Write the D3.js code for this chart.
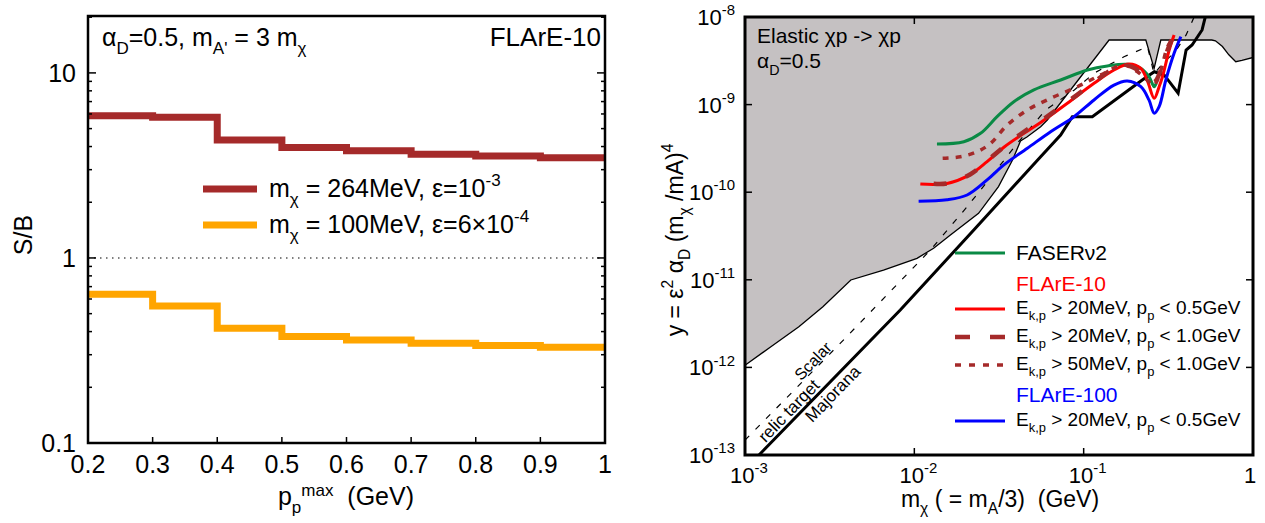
<!DOCTYPE html>
<html><head><meta charset="utf-8">
<script src="https://cdn.jsdelivr.net/npm/d3@7"></script>
<style>body{margin:0;background:#fff} text{font-family:"Liberation Sans",Arial,Helvetica,sans-serif}</style>
</head><body><svg id="c" width="1265" height="523"></svg>
<script>
// ---------- LEFT PANEL DATA ----------
const pBinEdges = [0.2,0.3,0.4,0.5,0.6,0.7,0.8,0.9,1.0];
const sb264 = [5.86,5.76,4.34,3.95,3.79,3.63,3.56,3.48];
const sb100 = [0.636,0.55,0.417,0.376,0.360,0.346,0.336,0.329];
const leftXTicks = [0.2,0.3,0.4,0.5,0.6,0.7,0.8,0.9,1.0];
const leftXTickLabels = ["0.2","0.3","0.4","0.5","0.6","0.7","0.8","0.9","1"];
const leftYTicks = [0.1,1,10];
const leftYTickLabels = ["0.1","1","10"];
const leftYMinor = [0.2,0.3,0.4,0.5,0.6,0.7,0.8,0.9,2,3,4,5,6,7,8,9,20];

// ---------- RIGHT PANEL DATA ([m_chi GeV, y]) ----------
const faser2 = [[0.0136,3.55e-10],[0.0196,3.77e-10],[0.0246,4.70e-10],[0.0308,7.28e-10],[0.0387,1.08e-9],[0.0508,1.47e-9],[0.0731,1.91e-9],[0.1052,2.48e-9],[0.138,2.76e-9],[0.181,2.88e-9],[0.2175,2.59e-9],[0.243,2.08e-9],[0.261,1.60e-9],[0.268,1.75e-9]];
const flare10_20_05 = [[0.01085,1.24e-10],[0.0156,1.26e-10],[0.02145,1.60e-10],[0.0269,2.23e-10],[0.0338,3.26e-10],[0.0444,4.70e-10],[0.0557,6.25e-10],[0.0801,1.035e-9],[0.1151,1.75e-9],[0.151,2.48e-9],[0.1854,2.91e-9],[0.2175,2.59e-9],[0.238,1.86e-9],[0.261,1.18e-9],[0.279,1.60e-9],[0.292,2.08e-9],[0.320,4.20e-9],[0.342,6.23e-9]];
const flare10_20_10 = [[0.0130,1.25e-10],[0.0156,1.26e-10],[0.02145,1.60e-10],[0.0269,2.27e-10],[0.0338,3.3e-10],[0.0444,4.9e-10],[0.0557,6.5e-10],[0.0801,1.07e-9],[0.1151,1.8e-9],[0.145,2.48e-9],[0.167,2.83e-9],[0.199,2.62e-9],[0.228,2.1e-9],[0.26,1.8e-9],[0.286,2.48e-9],[0.316,4.4e-9],[0.34,6.2e-9]];
const flare10_50_10 = [[0.0147,2.44e-10],[0.0187,2.54e-10],[0.0235,2.90e-10],[0.0282,3.61e-10],[0.0354,5.85e-10],[0.0465,8.67e-10],[0.0638,1.18e-9],[0.0918,1.60e-9],[0.126,2.18e-9],[0.173,2.83e-9],[0.208,2.37e-9],[0.249,1.75e-9],[0.261,1.67e-9],[0.286,2.48e-9],[0.313,4.58e-9],[0.342,5.96e-9]];
const flare100_20_05 = [[0.0106,7.9e-11],[0.0156,8.2e-11],[0.0205,9.29e-11],[0.0269,1.38e-10],[0.0338,2.05e-10],[0.0465,3.17e-10],[0.0638,4.91e-10],[0.0877,7.28e-10],[0.1151,1.13e-9],[0.151,1.67e-9],[0.181,1.86e-9],[0.2175,1.60e-9],[0.243,1.13e-9],[0.261,7.96e-10],[0.279,9.46e-10],[0.3057,1.91e-9],[0.342,3.85e-9],[0.375,5.96e-9]];
const excludedBoundary = [[0.001,1.06e-12],[0.001422,1.72e-12],[0.00208,2.91e-12],[0.002884,4.93e-12],[0.004217,9.95e-12],[0.006577,1.29e-11],[0.01037,1.76e-11],[0.0130,2.29e-11],[0.01633,3.24e-11],[0.02395,5.74e-11],[0.0314,1.16e-10],[0.038,2.33e-10],[0.04236,3.84e-10],[0.04645,4.30e-10],[0.0557,5.60e-10],[0.061,6.67e-10],[0.1413,5.46e-9],[0.2328,5.46e-9],[0.2606,2.59e-9],[0.2855,5.46e-9],[0.5715,5.46e-9],[0.60,5.35e-9],[0.66,4.6e-9],[0.72,3.7e-9],[0.791,3.09e-9],[0.86,3.2e-9],[1.0,3.45e-9]];
const majoranaTarget = [[0.00121,1.0e-13],[0.00826,4.52e-12],[0.02244,3.70e-11],[0.0557,2.54e-10],[0.0731,4.50e-10],[0.0857,7.28e-10],[0.1125,7.28e-10],[0.2218,1.91e-9],[0.2612,2.37e-9],[0.2987,2.18e-9],[0.3612,1.35e-9],[0.4026,4.20e-9],[0.4367,4.79e-9],[0.5003,7.11e-9],[0.535,1.2e-8]];
const scalarTarget = [[0.001,1.48e-13],[0.003648,1.88e-12],[0.01245,2.19e-11],[0.0205,6.82e-11],[0.02947,1.64e-10],[0.0405,3.61e-10],[0.0596,8.67e-10],[0.0881,1.47e-9],[0.1151,2.28e-9],[0.173,3.52e-9],[0.2382,4.58e-9],[0.2606,2.23e-9],[0.297,3.06e-9],[0.342,3.85e-9],[0.402,6.2e-9],[0.449,1.0e-8]];
const rightXTicks = [1e-3,1e-2,1e-1,1];
const rightXTickExp = ["-3","-2","-1",""];
const rightYTicks = [1e-13,1e-12,1e-11,1e-10,1e-9,1e-8];
const rightYTickExp = ["-13","-12","-11","-10","-9","-8"];

const svg = d3.select("#c");

function rich(g, x, y, parts, size, anchor, color){
  const t = g.append("text").attr("x",x).attr("y",y).attr("font-size",size)
    .attr("text-anchor",anchor||"start").attr("fill",color||"#000");
  let shift = 0;
  parts.forEach(p=>{
    const target = p.sub ? size*(p.dsub||0.32) : (p.sup ? -size*(p.dsup||0.45) : 0);
    const ts = t.append("tspan").text(p.t).attr("dy", target - shift);
    if(p.sub||p.sup) ts.attr("font-size", size*(p.small||0.68));
    shift = target;
  });
  return t;
}

// =============== LEFT PANEL ===============
const L = {x0:88, x1:605, y0:16, y1:443};
const lx = d3.scaleLinear().domain([0.2,1.0]).range([L.x0,L.x1]);
const ly = d3.scaleLog().domain([0.1,20.3]).range([L.y1,L.y0]);
const gl = svg.append("g");

gl.append("line").attr("x1",L.x0).attr("x2",L.x1).attr("y1",ly(1)).attr("y2",ly(1))
  .attr("stroke","#555").attr("stroke-width",1.5).attr("stroke-dasharray","1.5,4.5");

function stepData(vals){ const d = vals.map((v,i)=>[pBinEdges[i],v]); d.push([pBinEdges[pBinEdges.length-1], vals[vals.length-1]]); return d; }
const stepLine = d3.line().x(d=>lx(d[0])).y(d=>ly(d[1])).curve(d3.curveStepAfter);
gl.append("path").attr("d",stepLine(stepData(sb264))).attr("fill","none").attr("stroke","#a52a2a").attr("stroke-width",7);
gl.append("path").attr("d",stepLine(stepData(sb100))).attr("fill","none").attr("stroke","#ffa500").attr("stroke-width",7);

leftXTicks.forEach(v=>{
  gl.append("line").attr("x1",lx(v)).attr("x2",lx(v)).attr("y1",L.y1).attr("y2",L.y1-6).attr("stroke","#000").attr("stroke-width",1.5);
});
leftYTicks.forEach(v=>{
  [[L.x0,8],[L.x1,-8]].forEach(([x,d])=> gl.append("line").attr("x1",x).attr("x2",x+d).attr("y1",ly(v)).attr("y2",ly(v)).attr("stroke","#000").attr("stroke-width",1.5));
});
leftYMinor.forEach(v=>{
  [[L.x0,4],[L.x1,-4]].forEach(([x,d])=> gl.append("line").attr("x1",x).attr("x2",x+d).attr("y1",ly(v)).attr("y2",ly(v)).attr("stroke","#000").attr("stroke-width",1.5));
});
gl.append("rect").attr("x",L.x0).attr("y",L.y0).attr("width",L.x1-L.x0).attr("height",L.y1-L.y0)
  .attr("fill","none").attr("stroke","#000").attr("stroke-width",2.5);

leftXTicks.forEach((v,i)=> gl.append("text").attr("x",lx(v)).attr("y",473).attr("font-size",25)
  .attr("text-anchor","middle").text(leftXTickLabels[i]));
leftYTicks.forEach((v,i)=> gl.append("text").attr("x",L.x0-12).attr("y",ly(v)+9).attr("font-size",25)
  .attr("text-anchor","end").text(leftYTickLabels[i]));

rich(gl, 346, 505, [{t:"p"},{t:"p",sub:true,dsub:0.3},{t:"max",sup:true,small:0.68,dsup:0.38},{t:"\u00a0\u00a0(GeV)"}], 25, "middle");
gl.append("text").attr("transform","translate(32,235) rotate(-90)").attr("font-size",25).attr("text-anchor","middle").text("S/B");

rich(gl, 102, 46, [{t:"α"},{t:"D",sub:true},{t:"=0.5, m"},{t:"A'",sub:true},{t:" = 3 m"},{t:"χ",sub:true}], 25, "start");
gl.append("text").attr("x",601).attr("y",46).attr("font-size",26).attr("text-anchor","end").text("FLArE-10");

gl.append("line").attr("x1",203).attr("x2",257).attr("y1",189).attr("y2",189).attr("stroke","#a52a2a").attr("stroke-width",7);
gl.append("line").attr("x1",203).attr("x2",257).attr("y1",225).attr("y2",225).attr("stroke","#ffa500").attr("stroke-width",7);
rich(gl, 269, 197, [{t:"m"},{t:"χ",sub:true},{t:" = 264MeV, ε=10"},{t:"-3",sup:true}], 25, "start");
rich(gl, 269, 233, [{t:"m"},{t:"χ",sub:true},{t:" = 100MeV, ε=6×10"},{t:"-4",sup:true}], 25, "start");

// =============== RIGHT PANEL ===============
const R = {x0:745, x1:1253, y0:17, y1:455};
const rx = d3.scaleLog().domain([1e-3,1]).range([R.x0,R.x1]);
const ry = d3.scaleLog().domain([1e-13,1e-8]).range([R.y1,R.y0]);
const gr = svg.append("g");
gr.append("clipPath").attr("id","clipR").append("rect").attr("x",R.x0).attr("y",R.y0).attr("width",R.x1-R.x0).attr("height",R.y1-R.y0);
const gc = gr.append("g").attr("clip-path","url(#clipR)");

const lineLin = d3.line().x(d=>rx(d[0])).y(d=>ry(d[1]));
const lineSmooth = d3.line().x(d=>rx(d[0])).y(d=>ry(d[1])).curve(d3.curveCatmullRom.alpha(0.5));

const area = excludedBoundary.concat([[1,1e-8],[1e-3,1e-8]]);
gc.append("path").attr("d", lineLin(area)+"Z").attr("fill","#c5c1c2").attr("stroke","none");
gc.append("path").attr("d", lineLin(excludedBoundary)).attr("fill","none").attr("stroke","#000").attr("stroke-width",1.3);

gc.append("path").attr("d", lineLin(scalarTarget)).attr("fill","none").attr("stroke","#000").attr("stroke-width",1.2).attr("stroke-dasharray","6,9");
gc.append("path").attr("d", lineLin(majoranaTarget)).attr("fill","none").attr("stroke","#000").attr("stroke-width",3);

gc.append("path").attr("d", lineSmooth(faser2)).attr("fill","none").attr("stroke","#0a8a45").attr("stroke-width",3);
gc.append("path").attr("d", lineSmooth(flare100_20_05)).attr("fill","none").attr("stroke","#0000ff").attr("stroke-width",3);
gc.append("path").attr("d", lineSmooth(flare10_20_05)).attr("fill","none").attr("stroke","#ff0000").attr("stroke-width",3);
gc.append("path").attr("d", lineSmooth(flare10_20_10)).attr("fill","none").attr("stroke","#a52a2a").attr("stroke-width",4.5).attr("stroke-dasharray","13,20");
gc.append("path").attr("d", lineSmooth(flare10_50_10)).attr("fill","none").attr("stroke","#a52a2a").attr("stroke-width",3.5).attr("stroke-dasharray","6,7");

rightXTicks.forEach(v=>{
  [[R.y1,-7],[R.y0,7]].forEach(([y,d])=> gr.append("line").attr("x1",rx(v)).attr("x2",rx(v)).attr("y1",y).attr("y2",y+d).attr("stroke","#000").attr("stroke-width",1.5));
});
rightYTicks.forEach(v=>{
  [[R.x0,7],[R.x1,-7]].forEach(([x,d])=> gr.append("line").attr("x1",x).attr("x2",x+d).attr("y1",ry(v)).attr("y2",ry(v)).attr("stroke","#000").attr("stroke-width",1.5));
});
gr.append("rect").attr("x",R.x0).attr("y",R.y0).attr("width",R.x1-R.x0).attr("height",R.y1-R.y0)
  .attr("fill","none").attr("stroke","#000").attr("stroke-width",3);

rightXTicks.forEach((v,i)=>{
  const parts = rightXTickExp[i] ? [{t:"10"},{t:rightXTickExp[i],sup:true}] : [{t:"1"}];
  rich(gr, rx(v)+(rightXTickExp[i]?4:-3), 483, parts, 22, "middle");
});
rightYTicks.forEach((v,i)=>{
  rich(gr, R.x0-10, ry(v)+8, [{t:"10"},{t:rightYTickExp[i],sup:true}], 22, "end");
});

rich(gr, 1000, 507, [{t:"m"},{t:"χ",sub:true},{t:" ( = m"},{t:"A",sub:true},{t:"/3)\u00a0\u00a0(GeV)"}], 23, "middle");
const yl = gr.append("g").attr("transform","translate(683,240) rotate(-90)");
rich(yl, 0, 0, [{t:"y = ε"},{t:"2",sup:true},{t:" α"},{t:"D",sub:true},{t:" (m"},{t:"χ",sub:true},{t:" /mA)"},{t:"4",sup:true}], 23, "middle");

rich(gr, 757, 43, [{t:"Elastic χp -> χp"}], 21, "start");
rich(gr, 757, 68, [{t:"α"},{t:"D",sub:true},{t:"=0.5"}], 21, "start");

gr.append("text").attr("transform","translate(813,361) rotate(-46)").attr("font-size",16).attr("text-anchor","middle").attr("dominant-baseline","central").text("Scalar");
gr.append("text").attr("transform","translate(789,411) rotate(-46)").attr("font-size",17).attr("text-anchor","middle").attr("dominant-baseline","central").text("relic target");
gr.append("text").attr("transform","translate(833,394) rotate(-46)").attr("font-size",17).attr("text-anchor","middle").attr("dominant-baseline","central").text("Majorana");

const lg = gr.append("g");
const LX0 = 955, LX1 = 1005, TX = 1016, LS = 19;
lg.append("line").attr("x1",LX0).attr("x2",LX1).attr("y1",253).attr("y2",253).attr("stroke","#0a8a45").attr("stroke-width",3);
rich(lg, TX, 260, [{t:"FASERν2"}], 21, "start");
rich(lg, TX, 291, [{t:"FLArE-10"}], 21, "start", "#ff0000");
lg.append("line").attr("x1",LX0).attr("x2",LX1).attr("y1",309).attr("y2",309).attr("stroke","#ff0000").attr("stroke-width",3);
rich(lg, TX, 314, [{t:"E"},{t:"k,p",sub:true},{t:" > 20MeV, p"},{t:"p",sub:true},{t:" < 0.5GeV"}], LS, "start");
lg.append("line").attr("x1",LX0).attr("x2",LX1).attr("y1",337).attr("y2",337).attr("stroke","#a52a2a").attr("stroke-width",4.5).attr("stroke-dasharray","15,20");
rich(lg, TX, 342, [{t:"E"},{t:"k,p",sub:true},{t:" > 20MeV, p"},{t:"p",sub:true},{t:" < 1.0GeV"}], LS, "start");
lg.append("line").attr("x1",LX0).attr("x2",LX1).attr("y1",365).attr("y2",365).attr("stroke","#a52a2a").attr("stroke-width",3.5).attr("stroke-dasharray","6,8");
rich(lg, TX, 370, [{t:"E"},{t:"k,p",sub:true},{t:" > 50MeV, p"},{t:"p",sub:true},{t:" < 1.0GeV"}], LS, "start");
rich(lg, TX, 402, [{t:"FLArE-100"}], 21, "start", "#0000ff");
lg.append("line").attr("x1",LX0).attr("x2",LX1).attr("y1",421).attr("y2",421).attr("stroke","#0000ff").attr("stroke-width",3);
rich(lg, TX, 426, [{t:"E"},{t:"k,p",sub:true},{t:" > 20MeV, p"},{t:"p",sub:true},{t:" < 0.5GeV"}], LS, "start");
</script></body></html>
